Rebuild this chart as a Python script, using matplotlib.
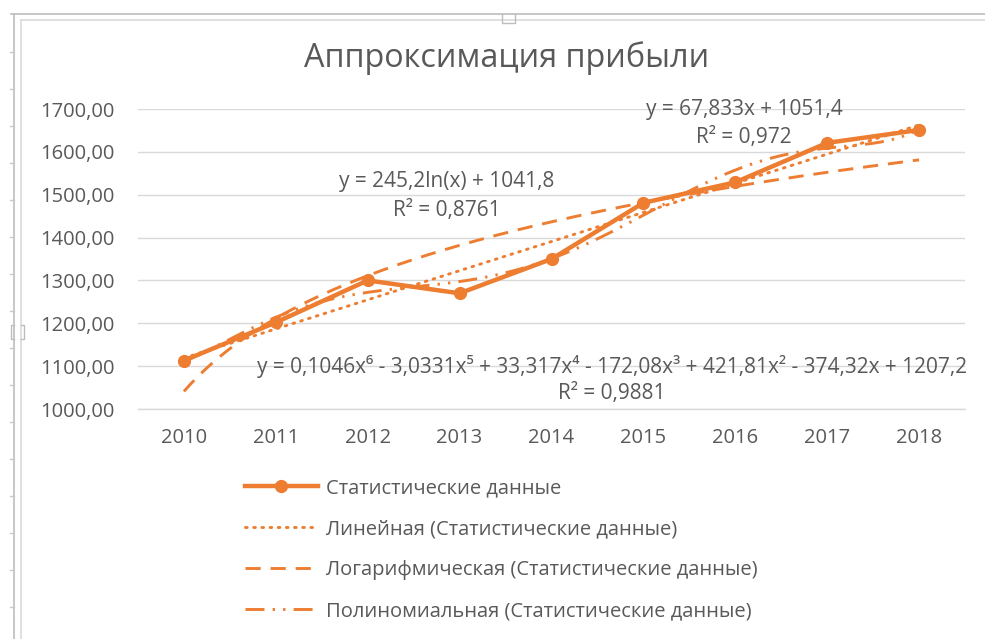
#!/usr/bin/env python3
# -*- coding: utf-8 -*-
"""Profit approximation chart: data series plus linear, log and 6th-order trendlines."""
import matplotlib
matplotlib.use("Agg")
import matplotlib.pyplot as plt
from matplotlib.lines import Line2D
import numpy as np

# --- data
years = [2010, 2011, 2012, 2013, 2014, 2015, 2016, 2017, 2018]
profit = [1113, 1202, 1300, 1270, 1350, 1481, 1529, 1621, 1651]
y_ticks = [1000, 1100, 1200, 1300, 1400, 1500, 1600, 1700]

title = "Аппроксимация прибыли"
series_label = "Статистические данные"
trend_labels = ["Линейная (Статистические данные)",
                "Логарифмическая (Статистические данные)",
                "Полиномиальная (Статистические данные)"]
eq_lin = ["y = 67,833x + 1051,4", "R² = 0,972"]
eq_log = ["y = 245,2ln(x) + 1041,8", "R² = 0,8761"]
eq_poly = ["y = 0,1046x⁶ - 3,0331x⁵ + 33,317x⁴ - 172,08x³ + 421,81x² - 374,32x + 1207,2",
           "R² = 0,9881"]

ORANGE = "#ED7D31"
GRID = "#D9D9D9"
TEXT = "#595959"
FONT = ["Open Sans", "DejaVu Sans"]

LW_TREND = 2.1
DOT = dict(dashes=(0.6, 2.2), dash_capstyle="round")
DASH = dict(dashes=(5.2, 3.4))
DASHDOT = dict(dashes=(6.5, 2.8, 0.8, 2.8, 0.8, 2.8))

W, H = 985, 639
plt.rcParams["font.family"] = FONT


def fx(px):
    return px / W


def fy(py):
    return 1 - py / H


fig = plt.figure(figsize=(W / 100, H / 100), dpi=100)
ax = fig.add_axes([fx(138), fy(409), fx(965) - fx(138), fy(109) - fy(409)])

x = np.arange(1, len(years) + 1)
y = np.array(profit, float)
xs = np.linspace(1, len(years), 400)

# trendlines fitted the way Excel does it
lin = np.polyfit(x, y, 1)
logc = np.polyfit(np.log(x), y, 1)
poly = np.polyfit(x, y, 6)

ax.plot(xs, np.polyval(lin, xs), color=ORANGE, lw=LW_TREND, zorder=3, **DOT)
ax.plot(xs, np.polyval(logc, np.log(xs)), color=ORANGE, lw=LW_TREND, zorder=3, **DASH)
ax.plot(xs, np.polyval(poly, xs), color=ORANGE, lw=LW_TREND, zorder=3, **DASHDOT)
ax.plot(x, y, color=ORANGE, lw=3.2, marker="o", ms=8.5, zorder=4)

ax.set_xlim(0.5, len(years) + 0.5)
ax.set_ylim(1000, 1700)
ax.set_xticks(x)
ax.set_xticklabels([str(v) for v in years])
ax.set_yticks(y_ticks)
ax.set_yticklabels([f"{v:.2f}".replace(".", ",") for v in y_ticks])
ax.yaxis.grid(True, color=GRID, lw=1.0, zorder=0)
ax.set_axisbelow(True)
for s in ("top", "right", "left"):
    ax.spines[s].set_visible(False)
ax.spines["bottom"].set_color(GRID)
ax.spines["bottom"].set_linewidth(1.0)
ax.tick_params(length=0, labelsize=14.5, colors=TEXT)
ax.tick_params(axis="y", pad=17)
ax.tick_params(axis="x", pad=14)

# trendline equations
kw = dict(ha="center", va="center", fontsize=15, color=TEXT,
          transform=fig.transFigure, zorder=6)
for lines, cx, y0, y1 in ((eq_lin, 744, 109, 137),
                          (eq_log, 447, 182, 210),
                          (eq_poly, 612, 366, 393)):
    fig.text(fx(cx), fy(y0), lines[0], **kw)
    fig.text(fx(cx), fy(y1), lines[1], **kw)

fig.text(fx(507), fy(58), title, ha="center", va="center",
         fontsize=23.3, color=TEXT)

# legend below the plot
handles = [
    Line2D([], [], color=ORANGE, lw=3.2, marker="o", ms=8.5),
    Line2D([], [], color=ORANGE, lw=LW_TREND, **DOT),
    Line2D([], [], color=ORANGE, lw=LW_TREND, **DASH),
    Line2D([], [], color=ORANGE, lw=LW_TREND, **DASHDOT),
]
leg = fig.legend(handles, [series_label] + trend_labels,
                 loc="upper left", bbox_to_anchor=(fx(245), fy(478)),
                 frameon=False, fontsize=14.5, handlelength=3.6,
                 handletextpad=0.4, labelspacing=1.05, borderpad=0,
                 borderaxespad=0)
for t in leg.get_texts():
    t.set_color(TEXT)

# selection frame of the chart object, as in the screenshot
ov = fig.add_axes([0, 0, 1, 1], zorder=-1)
ov.set_xlim(0, W)
ov.set_ylim(H, 0)
ov.axis("off")
ov.plot([11, W], [14, 14], color="#BDBDBD", lw=1.2)
ov.plot([21, W], [19.5, 19.5], color="#DADADA", lw=1.2)
ov.plot([14, 14], [14, H], color="#BDBDBD", lw=1.2)
ov.plot([21, 21], [19.5, H], color="#DADADA", lw=1.2)
for yy in range(52, H, 37):
    ov.plot([10, 14], [yy, yy], color="#C8C8C8", lw=1.0)
ov.plot([502, 502, 515, 515], [14, 23, 23, 14], color="#BDBDBD", lw=1.0)
ov.plot([14, 11, 11, 14], [325, 325, 339, 339], color="#BDBDBD", lw=1.0)
ov.plot([21, 24, 24, 21], [325, 325, 339, 339], color="#BDBDBD", lw=1.0)

fig.savefig("out.png", dpi=100)
